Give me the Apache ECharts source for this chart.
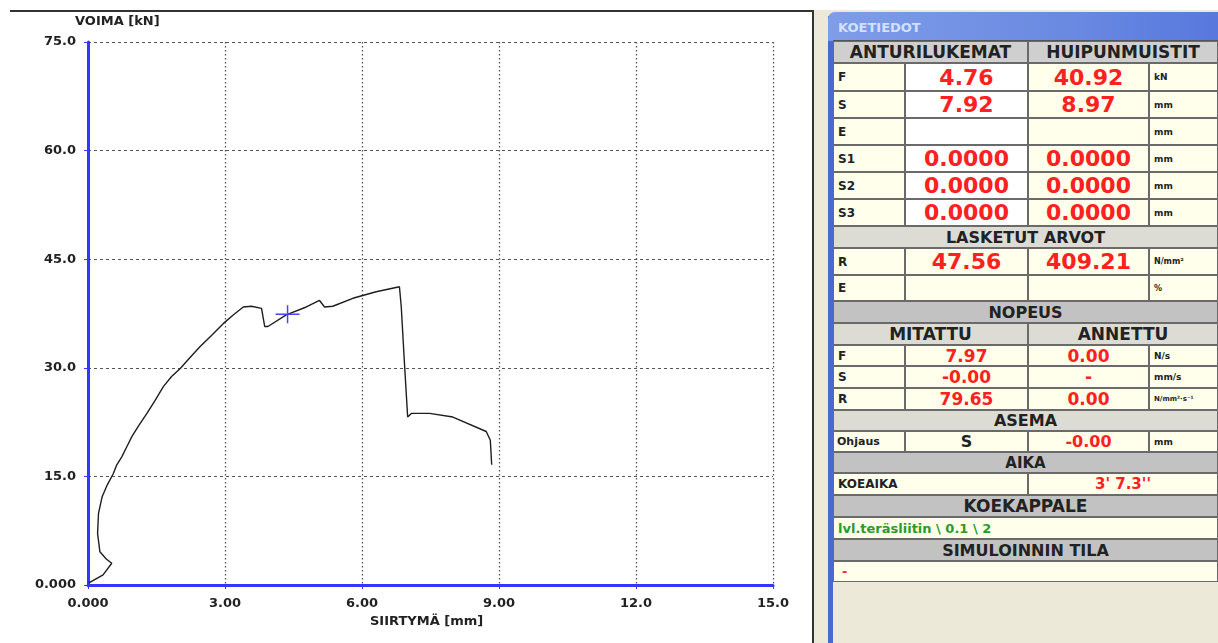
<!DOCTYPE html>
<html>
<head>
<meta charset="utf-8">
<script src="https://cdn.jsdelivr.net/npm/echarts@6/dist/echarts.min.js"></script>
<style>
html,body{margin:0;padding:0;background:#fff;width:1218px;height:643px;overflow:hidden;}
#chart{position:absolute;left:0;top:0;width:812px;height:643px;}
.abs{position:absolute;box-sizing:border-box;}
.cell{position:absolute;box-sizing:border-box;border:1px solid #6a6a6a;display:flex;align-items:center;font-family:"DejaVu Sans",Verdana,sans-serif;font-weight:bold;white-space:nowrap;overflow:hidden;}
</style>
</head>
<body>
<div id="chart"></div>
<div id="panel"></div>
<script>
// ---- chart data ----
const xTickLabels = ['0.000','3.00','6.00','9.00','12.0','15.0'];
const yTickLabels = ['0.000','15.0','30.0','45.0','60.0','75.0'];
const displacement = [0.02,0.33,0.52,0.40,0.26,0.21,0.23,0.31,0.42,0.555,0.63,0.74,0.85,0.96,1.10,1.29,1.47,1.65,1.83,2.02,2.23,2.45,2.71,2.96,3.18,3.40,3.58,3.80,3.87,3.94,4.34,4.78,5.07,5.18,5.36,5.80,6.31,6.82,6.86,6.93,7.00,7.08,7.48,7.99,8.72,8.81,8.84];
const force =        [0.3,1.4,3.0,3.6,4.6,7.1,9.9,12.2,13.8,15.4,16.6,17.7,19.1,20.5,21.9,23.7,25.5,27.4,28.8,29.9,31.4,32.9,34.5,36.1,37.3,38.4,38.5,38.2,35.7,35.7,37.3,38.4,39.3,38.4,38.5,39.6,40.5,41.2,38.4,30.6,23.2,23.7,23.7,23.2,21.2,20.0,16.6];
const cursorPoint = [4.37, 37.4];

// ---- panel data ----
const sensorLabels = ['F','S','E','S1','S2','S3'];
const sensorReadings = ['4.76','7.92','','0.0000','0.0000','0.0000'];
const peakMemory = ['40.92','8.97','','0.0000','0.0000','0.0000'];
const sensorUnits = ['kN','mm','mm','mm','mm','mm'];
const calcLabels = ['R','E'];
const calcReadings = ['47.56',''];
const calcPeaks = ['409.21',''];
const calcUnits = ['N/mm²','%'];
const speedLabels = ['F','S','R'];
const speedMeasured = ['7.97','-0.00','79.65'];
const speedGiven = ['0.00','-','0.00'];
const speedUnits = ['N/s','mm/s','N/mm²·s⁻¹'];

const FONT = '"DejaVu Sans", Verdana, sans-serif';
const BLUE = '#3535ff';

const chart = echarts.init(document.getElementById('chart'), null, {renderer:'canvas'});
chart.setOption({
  backgroundColor:'#ffffff',
  animation:false,
  grid:{left:88, top:42, width:685, height:543},
  xAxis:{
    type:'value', min:0, max:15, interval:3,
    axisLine:{show:true, onZero:false, lineStyle:{color:BLUE, width:3}},
    axisTick:{show:true, length:4, lineStyle:{color:BLUE, width:1}},
    axisLabel:{margin:12, color:'#222', fontFamily:FONT, fontWeight:'bold', fontSize:13,
      formatter:(v)=>xTickLabels[Math.round(v/3)]},
    splitLine:{show:true, lineStyle:{color:'#555', width:1.3, type:[1.5,2.5]}}
  },
  yAxis:{
    type:'value', min:0, max:75, interval:15,
    axisLine:{show:true, onZero:false, lineStyle:{color:BLUE, width:3}},
    axisTick:{show:true, length:4, lineStyle:{color:BLUE, width:1}},
    axisLabel:{margin:12, color:'#222', fontFamily:FONT, fontWeight:'bold', fontSize:13,
      formatter:(v)=>yTickLabels[Math.round(v/15)]},
    splitLine:{show:true, lineStyle:{color:'#555', width:1, type:[3,3]}}
  },
  graphic:[
    {type:'text', left:75, top:15, style:{text:'VOIMA [kN]', fill:'#222', font:'bold 13px '+FONT}},
    {type:'text', left:370, top:615, style:{text:'SIIRTYMÄ [mm]', fill:'#222', font:'bold 13px '+FONT}}
  ],
  series:[
    {
      type:'line', data:displacement.map((x,i)=>[x,force[i]]),
      showSymbol:false, symbol:'none', smooth:false,
      lineStyle:{color:'#1e1e1e', width:1.4}, z:3
    },
    {
      type:'custom', data:[cursorPoint], z:4,
      renderItem:(params, api)=>{
        const p = api.coord([api.value(0), api.value(1)]);
        return {type:'group', children:[
          {type:'line', shape:{x1:p[0]-12,y1:p[1],x2:p[0]+12,y2:p[1]}, style:{stroke:'#4646ff', lineWidth:1.5}},
          {type:'line', shape:{x1:p[0],y1:p[1]-9,x2:p[0],y2:p[1]+9}, style:{stroke:'#4646ff', lineWidth:1.5}}
        ]};
      }
    }
  ]
});

// ---- panel ----
const panel = document.getElementById('panel');
function box(x1,y1,x2,y2,css){
  const d=document.createElement('div'); d.className='abs';
  d.style.cssText+=`left:${x1}px;top:${y1}px;width:${x2-x1}px;height:${y2-y1}px;`+(css||'');
  panel.appendChild(d); return d;
}
function cell(x1,y1,x2,y2,text,o){
  o=o||{};
  const d=document.createElement('div'); d.className='cell';
  d.style.left=x1+'px'; d.style.top=y1+'px'; d.style.width=(x2-x1)+'px'; d.style.height=(y2-y1)+'px';
  d.style.background=o.bg||'#ffffec';
  d.style.justifyContent=o.align||'center';
  if(o.align==='flex-start') d.style.paddingLeft=(o.pad||4)+'px';
  d.style.fontSize=(o.size||12)+'px';
  d.style.color=o.color||'#222';
  d.textContent=text;
  panel.appendChild(d); return d;
}
// frame of left area
box(10,10,814,12,'background:#333;');
box(812,10,814,643,'background:#333;');
// beige area
box(814,10,1218,643,'background:#ece9d8;');
// panel left blue border
box(828,16,833,643,'background:#4a68d0;');
// title bar
box(828,12,1218,41,'background:linear-gradient(to right,#7f9de8,#6a8ae2 60%,#5878de);border-top-left-radius:7px;');
const tt=box(838,14,1000,40,'color:#d4e0ff;font:bold 13px '+FONT+';display:flex;align-items:center;');
tt.textContent='KOETIEDOT';
box(833,40,1218,41,'background:#555;');

const C0=833,C1=905,C2=1028,C3=1149,C4=1218;
const RED='#ff2020', GREY1='#cfcfcf', GREY2='#dcdcd4', GREY3='#c2c2c2';

// header
cell(C0,41,C2,63,'ANTURILUKEMAT',{bg:GREY1,size:17});
cell(C2,41,C4,63,'HUIPUNMUISTIT',{bg:GREY1,size:17});
const sensorRows=[[63,91],[91,118],[118,145],[145,172],[172,199],[199,226]];
sensorRows.forEach((r,i)=>{
  cell(C0,r[0],C1,r[1],sensorLabels[i],{align:'flex-start',size:12});
  cell(C1,r[0],C2,r[1],sensorReadings[i],{bg:'#ffffff',color:RED,size:22});
  cell(C2,r[0],C3,r[1],peakMemory[i],{color:RED,size:22});
  cell(C3,r[0],C4,r[1],sensorUnits[i],{align:'flex-start',size:9});
});
cell(C0,226,C4,248,'LASKETUT ARVOT',{bg:GREY2,size:16});
const calcRows=[[248,275],[275,301]];
calcRows.forEach((r,i)=>{
  cell(C0,r[0],C1,r[1],calcLabels[i],{align:'flex-start',size:12});
  cell(C1,r[0],C2,r[1],calcReadings[i],{color:RED,size:22});
  cell(C2,r[0],C3,r[1],calcPeaks[i],{color:RED,size:22});
  cell(C3,r[0],C4,r[1],calcUnits[i],{align:'flex-start',size:8});
});
cell(C0,301,C4,323,'NOPEUS',{bg:GREY3,size:16});
cell(C0,323,C2,345,'MITATTU',{bg:GREY2,size:17});
cell(C2,323,C4,345,'ANNETTU',{bg:GREY2,size:17});
const speedRows=[[345,366],[366,388],[388,410]];
speedRows.forEach((r,i)=>{
  cell(C0,r[0],C1,r[1],speedLabels[i],{align:'flex-start',size:12});
  cell(C1,r[0],C2,r[1],speedMeasured[i],{color:RED,size:17});
  cell(C2,r[0],C3,r[1],speedGiven[i],{color:RED,size:17});
  cell(C3,r[0],C4,r[1],speedUnits[i],{align:'flex-start',size:i===2?7:9});
});
cell(C0,410,C4,431,'ASEMA',{bg:GREY2,size:16});
cell(C0,431,C1,452,'Ohjaus',{align:'flex-start',size:11,pad:3});
cell(C1,431,C2,452,'S',{size:16});
cell(C2,431,C3,452,'-0.00',{color:RED,size:16});
cell(C3,431,C4,452,'mm',{align:'flex-start',size:9});
cell(C0,452,C4,473,'AIKA',{bg:GREY3,size:15});
cell(C0,473,C2,495,'KOEAIKA',{align:'flex-start',size:12});
cell(C2,473,C4,495,"3' 7.3''",{color:RED,size:15});
cell(C0,495,C4,517,'KOEKAPPALE',{bg:GREY3,size:17});
cell(C0,517,C4,539,'lvl.teräsliitin \\ 0.1 \\ 2',{align:'flex-start',color:'#2a9a2a',size:13});
cell(C0,539,C4,561,'SIMULOINNIN TILA',{bg:GREY3,size:16});
cell(C0,561,C4,582,'-',{align:'flex-start',color:RED,size:13,pad:8});
</script>
</body>
</html>
